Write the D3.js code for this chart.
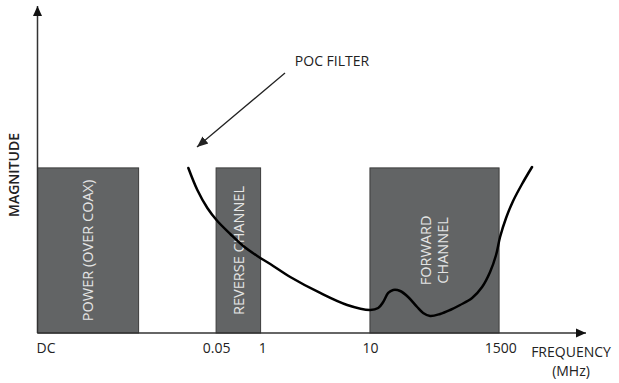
<!DOCTYPE html>
<html>
<head>
<meta charset="utf-8">
<script src="https://cdn.jsdelivr.net/npm/d3@7"></script>
<style>
  html, body { margin: 0; padding: 0; background: #fff; }
  svg { display: block; font-family: "Open Sans", "Noto Sans", sans-serif; }
</style>
</head>
<body>
<svg id="chart" width="619" height="383"></svg>
<script>
// ---- data (schematic units: x 0..100 along the frequency axis, y 0..100 magnitude) ----
const bandNames  = ["POWER (OVER COAX)", "REVERSE CHANNEL", "FORWARD\nCHANNEL"];
const bandStart  = [0, 32.5, 60.5];
const bandEnd    = [18.4, 40.6, 84.0];
const bandLevel  = [50.8, 50.8, 50.8];

const tickLabels    = ["DC", "0.05", "1", "10", "1500"];
const tickPositions = [0, 32.6, 41.0, 60.6, 84.3];

const filterX = [27.45, 29.09, 30.91, 32.73, 35.09, 37.45, 40.0, 42.36, 46.0, 51.45, 56.36, 60.55,
                 62.0, 62.91, 63.82, 64.73, 66.0, 67.45, 69.09, 70.18, 71.45, 73.27, 75.09, 76.91,
                 79.09, 80.91, 82.36, 83.45, 84.18, 85.27, 86.55, 88.18, 90.0];
const filterY = [50.77, 44.0, 38.46, 34.46, 30.46, 26.77, 23.69, 21.23, 17.23, 12.31, 8.62, 7.08,
                 7.69, 9.54, 12.31, 13.23, 12.92, 11.08, 8.0, 6.15, 5.23, 5.85, 7.08, 8.62,
                 10.77, 14.15, 18.77, 24.0, 29.54, 35.38, 40.62, 45.85, 51.08];

const annotation = "POC FILTER";
const xTitle = ["FREQUENCY", "(MHz)"];
const yTitle = "MAGNITUDE";

// ---- scales ----
const x = d3.scaleLinear().domain([0, 100]).range([37.5, 587]);
const y = d3.scaleLinear().domain([0, 100]).range([333, 8]);

const svg = d3.select("#chart");
const defs = svg.append("defs");
defs.append("marker").attr("id", "axisArrow")
  .attr("viewBox", "0 0 10 10").attr("refX", 10).attr("refY", 5)
  .attr("markerWidth", 10).attr("markerHeight", 10).attr("markerUnits", "userSpaceOnUse")
  .attr("orient", "auto")
  .append("path").attr("d", "M0,0.5 L10,5 L0,9.5 Z").attr("fill", "#111");
defs.append("marker").attr("id", "pocArrow")
  .attr("viewBox", "0 0 10 10").attr("refX", 10).attr("refY", 5)
  .attr("markerWidth", 11).attr("markerHeight", 11).attr("markerUnits", "userSpaceOnUse")
  .attr("orient", "auto")
  .append("path").attr("d", "M0,0.8 L10,5 L0,9.2 Z").attr("fill", "#222");

// ---- bands ----
const bands = bandNames.map((n, i) => ({ name: n, x0: bandStart[i], x1: bandEnd[i], v: bandLevel[i] }));
svg.append("g").selectAll("rect").data(bands).join("rect")
  .attr("x", d => x(d.x0))
  .attr("y", d => y(d.v))
  .attr("width", d => x(d.x1) - x(d.x0))
  .attr("height", d => y(0) - y(d.v))
  .attr("fill", "#626465")
  .attr("stroke", "#3c3c3c")
  .attr("stroke-width", 1);

// band labels (rotated)
const bl = svg.append("g").selectAll("text").data(bands).join("text")
  .attr("transform", d => `translate(${(x(d.x0) + x(d.x1)) / 2},${(y(d.v) + y(0)) / 2}) rotate(-90)`)
  .attr("text-anchor", "middle")
  .attr("fill", "#e4e4e4")
  .attr("font-size", 14.5);
bl.each(function(d) {
  const lines = d.name.split("\n");
  const t = d3.select(this);
  lines.forEach((ln, j) => {
    t.append("tspan").attr("x", 0)
      .attr("y", (j - (lines.length - 1) / 2) * 17.5)
      .attr("dy", "0.36em")
      .text(ln);
  });
});

// ---- axes ----
svg.append("line")
  .attr("x1", x(0)).attr("y1", y(0)).attr("x2", x(0)).attr("y2", y(100) - 2)
  .attr("stroke", "#333").attr("stroke-width", 1.5).attr("marker-end", "url(#axisArrow)");
svg.append("line")
  .attr("x1", x(0)).attr("y1", y(0)).attr("x2", x(100) - 1).attr("y2", y(0))
  .attr("stroke", "#333").attr("stroke-width", 1.5).attr("marker-end", "url(#axisArrow)");

// tick labels
svg.append("g").selectAll("text").data(tickLabels).join("text")
  .attr("x", (d, i) => x(tickPositions[i]) - (i === 0 ? 1 : 0))
  .attr("y", 353)
  .attr("text-anchor", (d, i) => i === 0 ? "start" : "middle")
  .attr("fill", "#222")
  .attr("font-size", 14)
  .text(d => d);

// axis titles
svg.append("g").selectAll("text").data(xTitle).join("text")
  .attr("x", 571).attr("y", (d, i) => 357 + i * 19)
  .attr("text-anchor", "middle").attr("fill", "#222").attr("font-size", 14)
  .text(d => d);
svg.append("text")
  .attr("transform", `translate(19,175) rotate(-90)`)
  .attr("text-anchor", "middle").attr("fill", "#222").attr("font-size", 14)
  .attr("font-weight", 600)
  .text(yTitle);

// ---- filter curve ----
const pts = filterX.map((v, i) => [v, filterY[i]]);
svg.append("path")
  .datum(pts)
  .attr("d", d3.line().x(d => x(d[0])).y(d => y(d[1])).curve(d3.curveCatmullRom.alpha(0.5)))
  .attr("fill", "none")
  .attr("stroke", "#000")
  .attr("stroke-width", 2.5)
  .attr("stroke-linecap", "round");

// ---- annotation ----
svg.append("text")
  .attr("x", 332).attr("y", 66)
  .attr("text-anchor", "middle").attr("fill", "#222").attr("font-size", 14)
  .text(annotation);
svg.append("line")
  .attr("x1", 285).attr("y1", 73).attr("x2", 197).attr("y2", 147)
  .attr("stroke", "#222").attr("stroke-width", 1.3).attr("marker-end", "url(#pocArrow)");
</script>
</body>
</html>
